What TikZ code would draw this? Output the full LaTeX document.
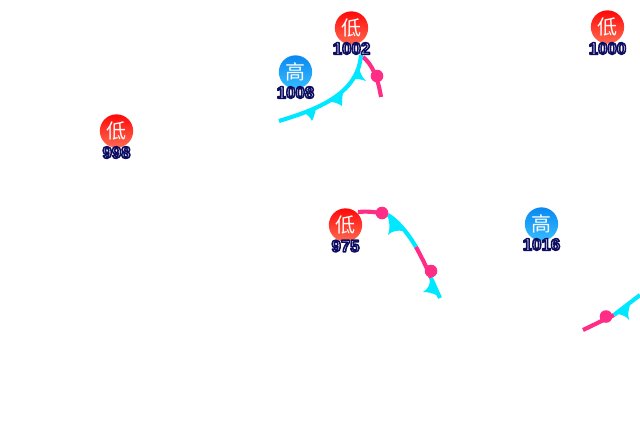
\documentclass[tikz,border=0pt]{standalone}
\usepackage{fontspec}
\setmainfont{Liberation Sans}
\newfontfamily\cjkfont{Noto Sans CJK SC}
\definecolor{coldc}{HTML}{00E8FF}
\definecolor{warmc}{HTML}{FF2D86}
\definecolor{lowtop}{HTML}{FF0808}
\definecolor{lowbot}{HTML}{FF6A50}
\definecolor{hightop}{HTML}{0A88F0}
\definecolor{highbot}{HTML}{35BCFF}
\tikzset{
  lowdisc/.style={circle,minimum size=25pt,inner sep=0pt,top color=lowtop,bottom color=lowbot,
    text=white,font=\cjkfont\fontsize{15}{15}\selectfont},
  highdisc/.style={circle,minimum size=25pt,inner sep=0pt,top color=hightop,bottom color=highbot,
    text=white,font=\cjkfont\fontsize{15}{15}\selectfont},
  presslabel/.style={inner sep=0pt,text=white,font=\bfseries\fontsize{12.6}{13}\selectfont},
  coldline/.style={draw=coldc,line width=3.1pt},
  warmline/.style={draw=warmc,line width=3.1pt},
  coldbarb/.style={fill=coldc,draw=none},
  warmbump/.style={fill=warmc,draw=none},
}
\newcommand{\press}[1]{\special{pdf:code q 0.05 0.05 0.38 RG 1.15 w 1 j 2 Tr}#1\special{pdf:code 0 Tr Q}}
\begin{document}
\begin{tikzpicture}[x=0.75pt,y=-0.75pt]
\useasboundingbox (0,0) rectangle (640,440);
% front A
\coordinate (a0) at (279,121);
\coordinate (a1) at (361,55);
\coordinate (a2) at (363,57);
\coordinate (a3) at (381,97);
\path[warmbump] (377,76) circle (6.3);
\draw[warmline] (a2) .. controls (372,64) and (378,78) .. (a3);
\draw[coldline] (a0) .. controls (315,110) and (358,95) .. (a1);
\path[coldbarb] (304,113) .. controls (308,115) and (310,117) .. (312,121) .. controls (314,117) and (315,113) .. (316,109) -- cycle;
\path[coldbarb] (331,102) .. controls (335,102) and (339,104) .. (342,106) .. controls (342,102) and (342,98) .. (343,93) -- cycle;
\path[coldbarb] (353,79) .. controls (357,79) and (361,79) .. (366,81) .. controls (362,77) and (360,73) .. (359,67) -- cycle;
% front B
\coordinate (b0) at (358,212);
\coordinate (b1) at (388,215);
\coordinate (b2) at (416,247);
\coordinate (b3) at (431,278);
\coordinate (b4) at (440,298);
\path[warmbump] (382,213) circle (6.3);
\path[warmbump] (431,271) circle (6.3);
\draw[warmline] (b0) .. controls (368,211) and (378,212) .. (b1);
\draw[coldline] (b1) .. controls (396,220) and (406,230) .. (b2);
\draw[warmline] (b2) .. controls (422,258) and (427,268) .. (b3);
\draw[coldline] (b3) -- (b4);
\path[coldbarb] (388,217) .. controls (390,224) and (390,229) .. (388,235) .. controls (392,231) and (397,230) .. (403,231) -- (396,219) -- cycle;
\path[coldbarb] (430,279) .. controls (430,285) and (428,289) .. (423,292) .. controls (428,292) and (433,293) .. (438,296) -- cycle;
% front C
\coordinate (c0) at (583,330);
\coordinate (c1) at (614,315);
\coordinate (c2) at (640,295);
\path[warmbump] (606,316.5) circle (6.3);
\draw[warmline] (c0) -- (c1);
\draw[coldline] (c1) -- (c2);
\path[coldbarb] (616,314) .. controls (621,314) and (626,316) .. (629,320) .. controls (628,315) and (628,311) .. (630,305) -- cycle;
% pressure centres
\node[lowdisc] (la) at (351.5,28) {低};
\node[presslabel] (lat) at (351.5,48.5) {\press{1002}};
\node[highdisc] (ha) at (295.5,72) {高};
\node[presslabel] (hat) at (295.5,92.5) {\press{1008}};
\node[lowdisc] (lb) at (607.5,27) {低};
\node[presslabel] (lbt) at (607.5,48.5) {\press{1000}};
\node[lowdisc] (lc) at (116.5,131) {低};
\node[presslabel] (lct) at (116.5,152.5) {\press{998}};
\node[lowdisc] (ld) at (345.5,225) {低};
\node[presslabel] (ldt) at (345.5,246) {\press{975}};
\node[highdisc] (hb) at (541.5,224) {高};
\node[presslabel] (hbt) at (541.5,244.5) {\press{1016}};
\end{tikzpicture}
\end{document}
